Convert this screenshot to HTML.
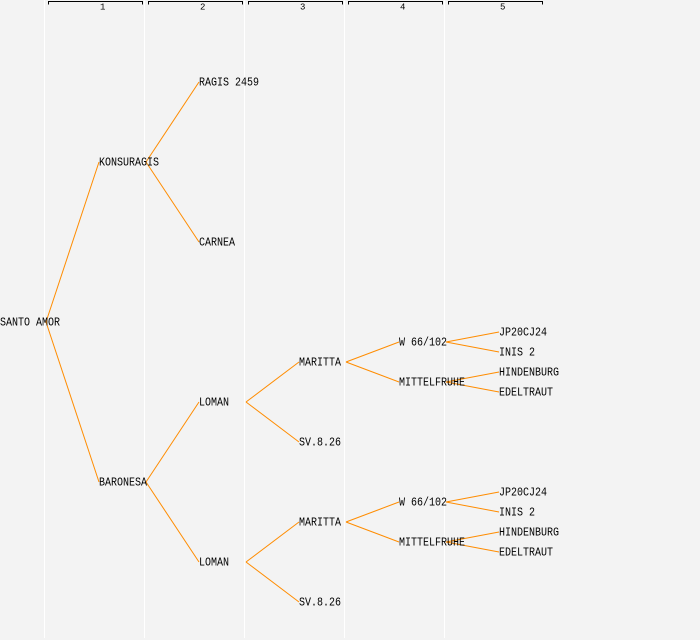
<!DOCTYPE html>
<html><head><meta charset="utf-8"><style>
html,body{margin:0;padding:0;background:#f3f3f3;}
svg{display:block;}
text{font-family:"Liberation Mono",monospace;fill:#000;}
.n{font-size:12px;}
.h{font-size:9px;}
</style></head><body>
<svg width="700" height="640" viewBox="0 0 700 640" xmlns="http://www.w3.org/2000/svg">
<rect x="0" y="0" width="700" height="640" fill="#f3f3f3"/>
<g fill="#ffffff">
<rect x="44" y="0" width="1" height="638"/>
<rect x="144" y="0" width="1" height="638"/>
<rect x="244" y="0" width="1" height="638"/>
<rect x="344" y="0" width="1" height="638"/>
<rect x="444" y="0" width="1" height="638"/>
</g>
<g fill="none" stroke="#000" stroke-width="1">
<path d="M48.5,4.5V1.5H142.5V4.5"/>
<path d="M148.5,4.5V1.5H242.5V4.5"/>
<path d="M248.5,4.5V1.5H342.5V4.5"/>
<path d="M348.5,4.5V1.5H442.5V4.5"/>
<path d="M448.5,4.5V1.5H542.5V4.5"/>
</g>
<g class="h">
<text x="100" y="9.5">1</text>
<text x="200" y="9.5">2</text>
<text x="300" y="9.5">3</text>
<text x="400" y="9.5">4</text>
<text x="500" y="9.5">5</text>
</g>
<g stroke="#ff8c00" stroke-width="1" fill="none">
<line x1="46" y1="322" x2="99" y2="162"/>
<line x1="46" y1="322" x2="99" y2="482"/>
<line x1="146" y1="162" x2="199" y2="82"/>
<line x1="146" y1="162" x2="199" y2="242"/>
<line x1="146" y1="482" x2="199" y2="402"/>
<line x1="146" y1="482" x2="199" y2="562"/>
<line x1="246" y1="402" x2="299" y2="362"/>
<line x1="246" y1="402" x2="299" y2="442"/>
<line x1="246" y1="562" x2="299" y2="522"/>
<line x1="246" y1="562" x2="299" y2="602"/>
<line x1="346" y1="362" x2="399" y2="342"/>
<line x1="346" y1="362" x2="399" y2="382"/>
<line x1="346" y1="522" x2="399" y2="502"/>
<line x1="346" y1="522" x2="399" y2="542"/>
<line x1="446" y1="342" x2="499" y2="332"/>
<line x1="446" y1="342" x2="499" y2="352"/>
<line x1="446" y1="382" x2="499" y2="372"/>
<line x1="446" y1="382" x2="499" y2="392"/>
<line x1="446" y1="502" x2="499" y2="492"/>
<line x1="446" y1="502" x2="499" y2="512"/>
<line x1="446" y1="542" x2="499" y2="532"/>
<line x1="446" y1="542" x2="499" y2="552"/>
</g>
<g class="n">
<text x="0" y="325.5" textLength="60" lengthAdjust="spacingAndGlyphs">SANTO AMOR</text>
<text x="99" y="165.5" textLength="60" lengthAdjust="spacingAndGlyphs">KONSURAGIS</text>
<text x="99" y="485.5" textLength="48" lengthAdjust="spacingAndGlyphs">BARONESA</text>
<text x="199" y="85.5" textLength="60" lengthAdjust="spacingAndGlyphs">RAGIS 2459</text>
<text x="199" y="245.5" textLength="36" lengthAdjust="spacingAndGlyphs">CARNEA</text>
<text x="199" y="405.5" textLength="30" lengthAdjust="spacingAndGlyphs">LOMAN</text>
<text x="199" y="565.5" textLength="30" lengthAdjust="spacingAndGlyphs">LOMAN</text>
<text x="299" y="365.5" textLength="42" lengthAdjust="spacingAndGlyphs">MARITTA</text>
<text x="299" y="445.5" textLength="42" lengthAdjust="spacingAndGlyphs">SV.8.26</text>
<text x="299" y="525.5" textLength="42" lengthAdjust="spacingAndGlyphs">MARITTA</text>
<text x="299" y="605.5" textLength="42" lengthAdjust="spacingAndGlyphs">SV.8.26</text>
<text x="399" y="345.5" textLength="48" lengthAdjust="spacingAndGlyphs">W 66/102</text>
<text x="399" y="385.5" textLength="66" lengthAdjust="spacingAndGlyphs">MITTELFRUHE</text>
<text x="399" y="505.5" textLength="48" lengthAdjust="spacingAndGlyphs">W 66/102</text>
<text x="399" y="545.5" textLength="66" lengthAdjust="spacingAndGlyphs">MITTELFRUHE</text>
<text x="499" y="335.5" textLength="48" lengthAdjust="spacingAndGlyphs">JP20CJ24</text>
<text x="499" y="355.5" textLength="36" lengthAdjust="spacingAndGlyphs">INIS 2</text>
<text x="499" y="375.5" textLength="60" lengthAdjust="spacingAndGlyphs">HINDENBURG</text>
<text x="499" y="395.5" textLength="54" lengthAdjust="spacingAndGlyphs">EDELTRAUT</text>
<text x="499" y="495.5" textLength="48" lengthAdjust="spacingAndGlyphs">JP20CJ24</text>
<text x="499" y="515.5" textLength="36" lengthAdjust="spacingAndGlyphs">INIS 2</text>
<text x="499" y="535.5" textLength="60" lengthAdjust="spacingAndGlyphs">HINDENBURG</text>
<text x="499" y="555.5" textLength="54" lengthAdjust="spacingAndGlyphs">EDELTRAUT</text>
</g>
</svg>
</body></html>
